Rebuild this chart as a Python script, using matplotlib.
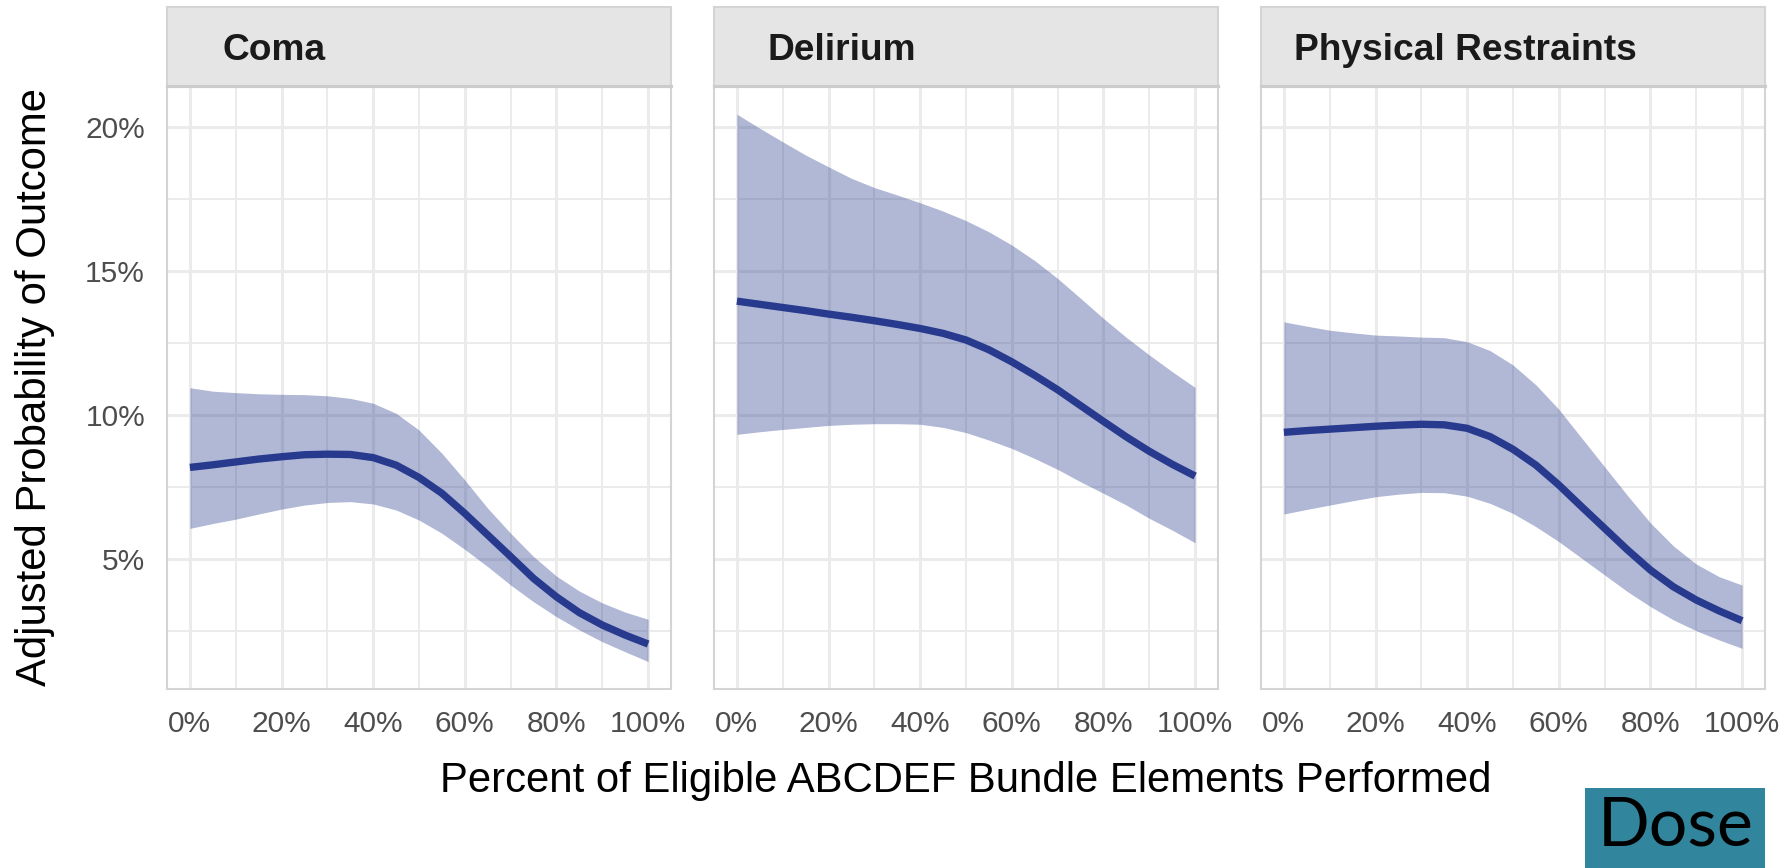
import matplotlib
matplotlib.use("Agg")
import matplotlib.pyplot as plt
from matplotlib.ticker import FixedLocator, FuncFormatter
from matplotlib.patches import Rectangle

plt.rcParams['font.family'] = ['Liberation Sans', 'DejaVu Sans']

# ---------------- data ----------------
pct = [0, 5, 10, 15, 20, 25, 30, 35, 40, 45, 50, 55, 60, 65, 70, 75, 80, 85, 90, 95, 100]

panel_titles = ["Coma", "Delirium", "Physical Restraints"]

coma_fit = [8.18, 8.27, 8.37, 8.47, 8.55, 8.62, 8.64, 8.63, 8.52, 8.26, 7.83,
            7.28, 6.58, 5.83, 5.08, 4.32, 3.68, 3.13, 2.70, 2.35, 2.04]
coma_hi = [10.95, 10.83, 10.78, 10.74, 10.72, 10.71, 10.67, 10.58, 10.41, 10.06, 9.48,
           8.67, 7.74, 6.76, 5.89, 5.08, 4.40, 3.88, 3.47, 3.15, 2.90]
coma_lo = [6.06, 6.23, 6.38, 6.56, 6.73, 6.87, 6.96, 6.99, 6.91, 6.70, 6.35,
           5.89, 5.33, 4.73, 4.09, 3.51, 2.99, 2.53, 2.12, 1.77, 1.43]

delirium_fit = [13.96, 13.85, 13.74, 13.63, 13.51, 13.40, 13.28, 13.15, 13.01, 12.84, 12.61,
                12.27, 11.85, 11.38, 10.88, 10.33, 9.78, 9.24, 8.74, 8.29, 7.88]
delirium_hi = [20.46, 19.97, 19.50, 19.04, 18.63, 18.23, 17.91, 17.65, 17.38, 17.09, 16.76,
               16.37, 15.91, 15.37, 14.75, 14.06, 13.36, 12.70, 12.09, 11.51, 10.96]
delirium_lo = [9.33, 9.42, 9.50, 9.57, 9.64, 9.68, 9.70, 9.70, 9.68, 9.57, 9.39,
               9.13, 8.84, 8.49, 8.11, 7.68, 7.28, 6.87, 6.41, 6.00, 5.56]

restraint_fit = [9.40, 9.46, 9.51, 9.56, 9.61, 9.65, 9.68, 9.66, 9.54, 9.25, 8.81,
                 8.26, 7.57, 6.81, 6.06, 5.31, 4.61, 4.03, 3.57, 3.19, 2.85]
restraint_hi = [13.24, 13.09, 12.95, 12.86, 12.78, 12.75, 12.71, 12.69, 12.55, 12.24, 11.74,
                11.05, 10.20, 9.20, 8.20, 7.20, 6.25, 5.45, 4.82, 4.38, 4.09]
restraint_lo = [6.56, 6.72, 6.87, 7.02, 7.16, 7.25, 7.31, 7.30, 7.18, 6.93, 6.58,
                6.12, 5.60, 5.02, 4.44, 3.86, 3.34, 2.88, 2.50, 2.18, 1.89]

x_major = [0, 20, 40, 60, 80, 100]
x_minor = [10, 30, 50, 70, 90]
y_major = [5, 10, 15, 20]
y_minor = [2.5, 7.5, 12.5, 17.5]

x_title = "Percent of Eligible ABCDEF Bundle Elements Performed"
y_title = "Adjusted Probability of Outcome"
badge_text = "Dose"

series = [(coma_fit, coma_lo, coma_hi),
          (delirium_fit, delirium_lo, delirium_hi),
          (restraint_fit, restraint_lo, restraint_hi)]

# ---------------- layout / style ----------------
W, H = 1791, 868
fig = plt.figure(figsize=(W / 100, H / 100), dpi=100)

panel_left = [167, 714, 1261]
panel_w = 504
panel_top, panel_bot = 86, 689
strip_top = 7
title_offset = [56, 53, 33]

line_color = '#283A8E'
grid_color = '#EBEBEB'
border_color = '#D4D4D4'
pct_fmt = FuncFormatter(lambda v, p: f"{v:g}%")

for i, (L, title, (fit, lo, hi)) in enumerate(zip(panel_left, panel_titles, series)):
    ax = fig.add_axes([L / W, (H - panel_bot) / H, panel_w / W, (panel_bot - panel_top) / H])
    ax.set_xlim(-5, 105)
    ax.set_ylim(0.476, 21.44)
    ax.xaxis.set_major_locator(FixedLocator(x_major))
    ax.xaxis.set_minor_locator(FixedLocator(x_minor))
    ax.yaxis.set_major_locator(FixedLocator(y_major))
    ax.yaxis.set_minor_locator(FixedLocator(y_minor))
    ax.xaxis.set_major_formatter(pct_fmt)
    ax.yaxis.set_major_formatter(pct_fmt)
    ax.grid(which='major', color=grid_color, lw=2.2)
    ax.grid(which='minor', color=grid_color, lw=1.4)
    ax.set_axisbelow(True)
    ax.tick_params(which='both', length=0)
    ax.tick_params(axis='x', pad=15, labelsize=21.5, labelcolor='#4D4D4D')
    ax.tick_params(axis='y', pad=15.8, labelsize=21.5, labelcolor='#4D4D4D')
    if i > 0:
        ax.tick_params(axis='y', labelleft=False)
    for s in ax.spines.values():
        s.set_color(border_color)
        s.set_linewidth(1.5)
    ax.spines['top'].set_color('#CCCCCC')
    ax.spines['top'].set_linewidth(2.2)

    ax.fill_between(pct, lo, hi, color=line_color, alpha=0.36, lw=0, zorder=2)
    ax.plot(pct, fit, color=line_color, lw=5.3, zorder=3, solid_capstyle='butt',
            solid_joinstyle='round')

    sax = fig.add_axes([L / W, (H - panel_top) / H, panel_w / W, (panel_top - strip_top) / H])
    sax.set_facecolor('#E5E5E5')
    sax.set_xticks([])
    sax.set_yticks([])
    for s in sax.spines.values():
        s.set_color(border_color)
        s.set_linewidth(1.5)
    sax.spines['bottom'].set_color('#CCCCCC')
    sax.spines['bottom'].set_linewidth(2.2)
    fig.text((L + title_offset[i]) / W, (H - 60) / H, title, fontsize=26.7,
             fontweight='bold', color='#1A1A1A', va='baseline', ha='left')

fig.text(966 / W, (H - 792) / H, x_title, fontsize=30.2, color='black',
         ha='center', va='baseline')
fig.text(35 / W, (H - 387.5) / H, y_title, fontsize=30.2, color='black',
         ha='center', va='center', rotation=90)

fig.patches.append(Rectangle((1585 / W, 0), 180 / W, 80 / H, transform=fig.transFigure,
                             facecolor='#31859C', edgecolor='none'))
fig.text(1676 / W, (H - 846) / H, badge_text, fontsize=49, color='black',
         family=['Lato', 'DejaVu Sans'], ha='center', va='baseline')

fig.savefig("out.png", dpi=100, facecolor='white')
